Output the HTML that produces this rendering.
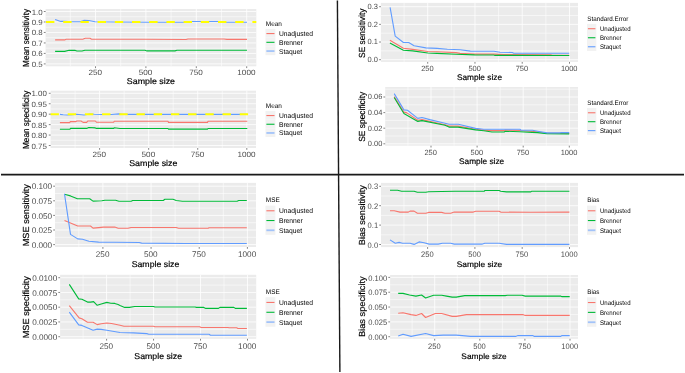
<!DOCTYPE html>
<html><head><meta charset="utf-8"><style>
html,body{margin:0;padding:0;background:#fff;overflow:hidden;}
svg{display:block;font-family:"Liberation Sans", sans-serif;filter:blur(0.4px);text-rendering:geometricPrecision;}
</style></head><body>
<svg width="685" height="373" viewBox="0 0 685 373">
<rect width="685" height="373" fill="#fff"/>
<g id="p1"><rect x="45.6" y="9.0" width="210.70" height="57.30" fill="#EBEBEB"/>
<line x1="45.6" x2="256.3" y1="58.66" y2="58.66" stroke="#FFFFFF" stroke-width="0.55"/>
<line x1="45.6" x2="256.3" y1="48.18" y2="48.18" stroke="#FFFFFF" stroke-width="0.55"/>
<line x1="45.6" x2="256.3" y1="37.70" y2="37.70" stroke="#FFFFFF" stroke-width="0.55"/>
<line x1="45.6" x2="256.3" y1="27.22" y2="27.22" stroke="#FFFFFF" stroke-width="0.55"/>
<line x1="45.6" x2="256.3" y1="16.74" y2="16.74" stroke="#FFFFFF" stroke-width="0.55"/>
<line x1="70.30" x2="70.30" y1="9.0" y2="66.3" stroke="#FFFFFF" stroke-width="0.55"/>
<line x1="120.70" x2="120.70" y1="9.0" y2="66.3" stroke="#FFFFFF" stroke-width="0.55"/>
<line x1="171.10" x2="171.10" y1="9.0" y2="66.3" stroke="#FFFFFF" stroke-width="0.55"/>
<line x1="221.50" x2="221.50" y1="9.0" y2="66.3" stroke="#FFFFFF" stroke-width="0.55"/>
<line x1="45.6" x2="256.3" y1="63.90" y2="63.90" stroke="#FFFFFF" stroke-width="0.8"/>
<line x1="45.6" x2="256.3" y1="53.42" y2="53.42" stroke="#FFFFFF" stroke-width="0.8"/>
<line x1="45.6" x2="256.3" y1="42.94" y2="42.94" stroke="#FFFFFF" stroke-width="0.8"/>
<line x1="45.6" x2="256.3" y1="32.46" y2="32.46" stroke="#FFFFFF" stroke-width="0.8"/>
<line x1="45.6" x2="256.3" y1="21.98" y2="21.98" stroke="#FFFFFF" stroke-width="0.8"/>
<line x1="45.6" x2="256.3" y1="11.50" y2="11.50" stroke="#FFFFFF" stroke-width="0.8"/>
<line x1="95.50" x2="95.50" y1="9.0" y2="66.3" stroke="#FFFFFF" stroke-width="0.8"/>
<line x1="145.90" x2="145.90" y1="9.0" y2="66.3" stroke="#FFFFFF" stroke-width="0.8"/>
<line x1="196.30" x2="196.30" y1="9.0" y2="66.3" stroke="#FFFFFF" stroke-width="0.8"/>
<line x1="246.70" x2="246.70" y1="9.0" y2="66.3" stroke="#FFFFFF" stroke-width="0.8"/>
<polyline points="55.1,39.9 64.6,39.9 66.2,39.2 83.2,39.1 85.4,38.3 90.0,38.3 91.6,39.2 145.0,39.3 186.0,39.5 188.0,39.0 224.0,39.0 227.0,39.4 247.0,39.4" fill="none" stroke="#F8766D" stroke-width="1.1" stroke-linejoin="round"/>
<polyline points="55.1,51.4 64.6,51.4 69.1,50.3 75.3,50.4 77.0,51.0 82.0,51.0 84.9,50.2 145.0,50.2 147.0,50.9 175.0,50.9 177.0,50.3 247.0,50.3" fill="none" stroke="#00BA38" stroke-width="1.1" stroke-linejoin="round"/>
<polyline points="55.1,19.4 60.7,21.4 64.6,21.3 72.0,21.7 80.0,21.7 83.8,20.4 88.8,20.5 95.0,21.7 115.0,22.0 150.0,22.2 185.0,22.2 192.0,21.5 218.0,21.5 226.0,22.2 247.0,22.2" fill="none" stroke="#619CFF" stroke-width="1.1" stroke-linejoin="round"/>
<line x1="45.6" x2="256.3" y1="21.98" y2="21.98" stroke="#FFFF00" stroke-width="2.1" stroke-dasharray="8.4 8.8" stroke-dashoffset="-0.4"/>
<line x1="43.80" x2="45.6" y1="63.90" y2="63.90" stroke="#333" stroke-width="0.6"/>
<text transform="translate(42.70,66.93) scale(1.030,1)" font-size="7.7" text-anchor="end" fill="#4D4D4D">0.5</text>
<line x1="43.80" x2="45.6" y1="53.42" y2="53.42" stroke="#333" stroke-width="0.6"/>
<text transform="translate(42.70,56.45) scale(1.030,1)" font-size="7.7" text-anchor="end" fill="#4D4D4D">0.6</text>
<line x1="43.80" x2="45.6" y1="42.94" y2="42.94" stroke="#333" stroke-width="0.6"/>
<text transform="translate(42.70,45.97) scale(1.030,1)" font-size="7.7" text-anchor="end" fill="#4D4D4D">0.7</text>
<line x1="43.80" x2="45.6" y1="32.46" y2="32.46" stroke="#333" stroke-width="0.6"/>
<text transform="translate(42.70,35.49) scale(1.030,1)" font-size="7.7" text-anchor="end" fill="#4D4D4D">0.8</text>
<line x1="43.80" x2="45.6" y1="21.98" y2="21.98" stroke="#333" stroke-width="0.6"/>
<text transform="translate(42.70,25.01) scale(1.030,1)" font-size="7.7" text-anchor="end" fill="#4D4D4D">0.9</text>
<line x1="43.80" x2="45.6" y1="11.50" y2="11.50" stroke="#333" stroke-width="0.6"/>
<text transform="translate(42.70,14.53) scale(1.030,1)" font-size="7.7" text-anchor="end" fill="#4D4D4D">1.0</text>
<line x1="95.50" x2="95.50" y1="66.3" y2="68.10" stroke="#333" stroke-width="0.6"/>
<text transform="translate(95.20,75.27) scale(1.060,1)" font-size="7.7" text-anchor="middle" fill="#4D4D4D">250</text>
<line x1="145.90" x2="145.90" y1="66.3" y2="68.10" stroke="#333" stroke-width="0.6"/>
<text transform="translate(145.60,75.27) scale(1.060,1)" font-size="7.7" text-anchor="middle" fill="#4D4D4D">500</text>
<line x1="196.30" x2="196.30" y1="66.3" y2="68.10" stroke="#333" stroke-width="0.6"/>
<text transform="translate(196.00,75.27) scale(1.060,1)" font-size="7.7" text-anchor="middle" fill="#4D4D4D">750</text>
<line x1="246.70" x2="246.70" y1="66.3" y2="68.10" stroke="#333" stroke-width="0.6"/>
<text transform="translate(246.40,75.27) scale(1.060,1)" font-size="7.7" text-anchor="middle" fill="#4D4D4D">1000</text>
<text transform="translate(150.95,83.90) scale(1.060,1)" font-size="8.35" text-anchor="middle" fill="#000" stroke="#000" stroke-width="0.18">Sample size</text>
<text transform="translate(28.50,37.95) rotate(-90)" font-size="8.8" text-anchor="middle" fill="#000" textLength="57.90" lengthAdjust="spacingAndGlyphs" stroke="#000" stroke-width="0.18">Mean sensitivity</text>
<text transform="translate(265.80,25.80) scale(0.960,1)" font-size="6.7" text-anchor="start" fill="#000">Mean</text>
<rect x="265.5" y="28.90" width="9.9" height="8.75" fill="#F2F2F2"/>
<line x1="266.40" x2="274.50" y1="33.57" y2="33.57" stroke="#F8766D" stroke-width="1.1" stroke-opacity="1.0"/>
<text transform="translate(278.90,36.07) scale(0.975,1)" font-size="6.9" text-anchor="start" fill="#000">Unadjusted</text>
<rect x="265.5" y="37.65" width="9.9" height="8.75" fill="#F2F2F2"/>
<line x1="266.40" x2="274.50" y1="42.32" y2="42.32" stroke="#00BA38" stroke-width="1.1" stroke-opacity="1.0"/>
<text transform="translate(278.90,44.82) scale(0.975,1)" font-size="6.9" text-anchor="start" fill="#000">Brenner</text>
<rect x="265.5" y="46.40" width="9.9" height="8.75" fill="#F2F2F2"/>
<line x1="266.40" x2="274.50" y1="51.07" y2="51.07" stroke="#619CFF" stroke-width="1.8" stroke-opacity="0.55"/>
<text transform="translate(278.90,53.57) scale(0.975,1)" font-size="6.9" text-anchor="start" fill="#000">Staquet</text></g>
<g id="p2"><rect x="50.6" y="90.7" width="205.40" height="57.30" fill="#EBEBEB"/>
<line x1="50.6" x2="256.0" y1="140.28" y2="140.28" stroke="#FFFFFF" stroke-width="0.55"/>
<line x1="50.6" x2="256.0" y1="129.84" y2="129.84" stroke="#FFFFFF" stroke-width="0.55"/>
<line x1="50.6" x2="256.0" y1="119.40" y2="119.40" stroke="#FFFFFF" stroke-width="0.55"/>
<line x1="50.6" x2="256.0" y1="108.96" y2="108.96" stroke="#FFFFFF" stroke-width="0.55"/>
<line x1="50.6" x2="256.0" y1="98.52" y2="98.52" stroke="#FFFFFF" stroke-width="0.55"/>
<line x1="75.07" x2="75.07" y1="90.7" y2="148.0" stroke="#FFFFFF" stroke-width="0.55"/>
<line x1="124.13" x2="124.13" y1="90.7" y2="148.0" stroke="#FFFFFF" stroke-width="0.55"/>
<line x1="173.20" x2="173.20" y1="90.7" y2="148.0" stroke="#FFFFFF" stroke-width="0.55"/>
<line x1="222.27" x2="222.27" y1="90.7" y2="148.0" stroke="#FFFFFF" stroke-width="0.55"/>
<line x1="50.6" x2="256.0" y1="145.50" y2="145.50" stroke="#FFFFFF" stroke-width="0.8"/>
<line x1="50.6" x2="256.0" y1="135.06" y2="135.06" stroke="#FFFFFF" stroke-width="0.8"/>
<line x1="50.6" x2="256.0" y1="124.62" y2="124.62" stroke="#FFFFFF" stroke-width="0.8"/>
<line x1="50.6" x2="256.0" y1="114.18" y2="114.18" stroke="#FFFFFF" stroke-width="0.8"/>
<line x1="50.6" x2="256.0" y1="103.74" y2="103.74" stroke="#FFFFFF" stroke-width="0.8"/>
<line x1="50.6" x2="256.0" y1="93.30" y2="93.30" stroke="#FFFFFF" stroke-width="0.8"/>
<line x1="99.60" x2="99.60" y1="90.7" y2="148.0" stroke="#FFFFFF" stroke-width="0.8"/>
<line x1="148.67" x2="148.67" y1="90.7" y2="148.0" stroke="#FFFFFF" stroke-width="0.8"/>
<line x1="197.73" x2="197.73" y1="90.7" y2="148.0" stroke="#FFFFFF" stroke-width="0.8"/>
<line x1="246.80" x2="246.80" y1="90.7" y2="148.0" stroke="#FFFFFF" stroke-width="0.8"/>
<polyline points="59.9,122.6 69.8,122.6 70.3,121.6 75.9,121.6 77.0,121.0 81.0,121.0 83.1,122.4 86.7,122.4 87.7,121.0 95.3,121.0 96.4,122.2 113.7,122.2 114.2,121.3 168.0,121.3 168.5,122.4 207.5,122.4 208.0,121.3 247.3,121.3" fill="none" stroke="#F8766D" stroke-width="1.1" stroke-linejoin="round"/>
<polyline points="59.9,129.3 69.8,129.3 70.5,128.4 86.7,128.4 88.7,127.5 95.3,127.9 96.4,128.4 113.7,128.4 114.2,127.8 120.0,128.5 168.0,128.5 168.5,129.1 207.5,129.1 208.0,128.5 247.3,128.5" fill="none" stroke="#00BA38" stroke-width="1.1" stroke-linejoin="round"/>
<polyline points="59.9,114.4 63.2,114.8 67.3,115.0 72.0,114.6 76.5,114.2 84.1,115.0 90.0,114.0 94.3,114.3 102.0,114.5 111.2,114.5 118.8,113.9 122.0,114.4 247.3,114.4" fill="none" stroke="#619CFF" stroke-width="1.1" stroke-linejoin="round"/>
<line x1="50.6" x2="256.0" y1="114.18" y2="114.18" stroke="#FFFF00" stroke-width="2.1" stroke-dasharray="8.4 8.8" stroke-dashoffset="0.1"/>
<line x1="48.80" x2="50.6" y1="145.50" y2="145.50" stroke="#333" stroke-width="0.6"/>
<text transform="translate(46.80,148.53) scale(1.030,1)" font-size="7.7" text-anchor="end" fill="#4D4D4D">0.75</text>
<line x1="48.80" x2="50.6" y1="135.06" y2="135.06" stroke="#333" stroke-width="0.6"/>
<text transform="translate(46.80,138.09) scale(1.030,1)" font-size="7.7" text-anchor="end" fill="#4D4D4D">0.80</text>
<line x1="48.80" x2="50.6" y1="124.62" y2="124.62" stroke="#333" stroke-width="0.6"/>
<text transform="translate(46.80,127.65) scale(1.030,1)" font-size="7.7" text-anchor="end" fill="#4D4D4D">0.85</text>
<line x1="48.80" x2="50.6" y1="114.18" y2="114.18" stroke="#333" stroke-width="0.6"/>
<text transform="translate(46.80,117.21) scale(1.030,1)" font-size="7.7" text-anchor="end" fill="#4D4D4D">0.90</text>
<line x1="48.80" x2="50.6" y1="103.74" y2="103.74" stroke="#333" stroke-width="0.6"/>
<text transform="translate(46.80,106.77) scale(1.030,1)" font-size="7.7" text-anchor="end" fill="#4D4D4D">0.95</text>
<line x1="48.80" x2="50.6" y1="93.30" y2="93.30" stroke="#333" stroke-width="0.6"/>
<text transform="translate(46.80,96.33) scale(1.030,1)" font-size="7.7" text-anchor="end" fill="#4D4D4D">1.00</text>
<line x1="99.60" x2="99.60" y1="148.0" y2="149.80" stroke="#333" stroke-width="0.6"/>
<text transform="translate(99.30,157.07) scale(1.060,1)" font-size="7.7" text-anchor="middle" fill="#4D4D4D">250</text>
<line x1="148.67" x2="148.67" y1="148.0" y2="149.80" stroke="#333" stroke-width="0.6"/>
<text transform="translate(148.37,157.07) scale(1.060,1)" font-size="7.7" text-anchor="middle" fill="#4D4D4D">500</text>
<line x1="197.73" x2="197.73" y1="148.0" y2="149.80" stroke="#333" stroke-width="0.6"/>
<text transform="translate(197.43,157.07) scale(1.060,1)" font-size="7.7" text-anchor="middle" fill="#4D4D4D">750</text>
<line x1="246.80" x2="246.80" y1="148.0" y2="149.80" stroke="#333" stroke-width="0.6"/>
<text transform="translate(246.50,157.07) scale(1.060,1)" font-size="7.7" text-anchor="middle" fill="#4D4D4D">1000</text>
<text transform="translate(153.30,165.90) scale(1.060,1)" font-size="8.35" text-anchor="middle" fill="#000" stroke="#000" stroke-width="0.18">Sample size</text>
<text transform="translate(28.50,119.85) rotate(-90)" font-size="8.8" text-anchor="middle" fill="#000" textLength="58.30" lengthAdjust="spacingAndGlyphs" stroke="#000" stroke-width="0.18">Mean specificity</text>
<text transform="translate(265.80,108.00) scale(0.960,1)" font-size="6.7" text-anchor="start" fill="#000">Mean</text>
<rect x="265.5" y="110.90" width="9.9" height="8.70" fill="#F2F2F2"/>
<line x1="266.40" x2="274.50" y1="115.55" y2="115.55" stroke="#F8766D" stroke-width="1.1" stroke-opacity="1.0"/>
<text transform="translate(278.90,118.05) scale(0.975,1)" font-size="6.9" text-anchor="start" fill="#000">Unadjusted</text>
<rect x="265.5" y="119.60" width="9.9" height="8.70" fill="#F2F2F2"/>
<line x1="266.40" x2="274.50" y1="124.25" y2="124.25" stroke="#00BA38" stroke-width="1.1" stroke-opacity="1.0"/>
<text transform="translate(278.90,126.75) scale(0.975,1)" font-size="6.9" text-anchor="start" fill="#000">Brenner</text>
<rect x="265.5" y="128.30" width="9.9" height="8.70" fill="#F2F2F2"/>
<line x1="266.40" x2="274.50" y1="132.95" y2="132.95" stroke="#619CFF" stroke-width="1.8" stroke-opacity="0.55"/>
<text transform="translate(278.90,135.45) scale(0.975,1)" font-size="6.9" text-anchor="start" fill="#000">Staquet</text></g>
<g id="p3"><rect x="380.9" y="2.9" width="197.10" height="59.00" fill="#EBEBEB"/>
<line x1="380.9" x2="578.0" y1="50.87" y2="50.87" stroke="#FFFFFF" stroke-width="0.55"/>
<line x1="380.9" x2="578.0" y1="33.20" y2="33.20" stroke="#FFFFFF" stroke-width="0.55"/>
<line x1="380.9" x2="578.0" y1="15.53" y2="15.53" stroke="#FFFFFF" stroke-width="0.55"/>
<line x1="404.07" x2="404.07" y1="2.9" y2="61.9" stroke="#FFFFFF" stroke-width="0.55"/>
<line x1="451.33" x2="451.33" y1="2.9" y2="61.9" stroke="#FFFFFF" stroke-width="0.55"/>
<line x1="498.60" x2="498.60" y1="2.9" y2="61.9" stroke="#FFFFFF" stroke-width="0.55"/>
<line x1="545.87" x2="545.87" y1="2.9" y2="61.9" stroke="#FFFFFF" stroke-width="0.55"/>
<line x1="380.9" x2="578.0" y1="59.70" y2="59.70" stroke="#FFFFFF" stroke-width="0.8"/>
<line x1="380.9" x2="578.0" y1="42.03" y2="42.03" stroke="#FFFFFF" stroke-width="0.8"/>
<line x1="380.9" x2="578.0" y1="24.37" y2="24.37" stroke="#FFFFFF" stroke-width="0.8"/>
<line x1="380.9" x2="578.0" y1="6.70" y2="6.70" stroke="#FFFFFF" stroke-width="0.8"/>
<line x1="427.70" x2="427.70" y1="2.9" y2="61.9" stroke="#FFFFFF" stroke-width="0.8"/>
<line x1="474.97" x2="474.97" y1="2.9" y2="61.9" stroke="#FFFFFF" stroke-width="0.8"/>
<line x1="522.23" x2="522.23" y1="2.9" y2="61.9" stroke="#FFFFFF" stroke-width="0.8"/>
<line x1="569.50" x2="569.50" y1="2.9" y2="61.9" stroke="#FFFFFF" stroke-width="0.8"/>
<polyline points="389.9,40.2 403.4,48.2 412.6,49.4 427.9,51.5 437.1,51.8 456.1,52.6 460.0,53.4 474.5,54.1 493.9,54.1 503.1,54.6 550.9,54.8 552.0,55.3 569.2,55.3" fill="none" stroke="#F8766D" stroke-width="1.1" stroke-linejoin="round"/>
<polyline points="389.9,43.1 403.4,50.2 412.6,50.9 427.9,53.0 437.0,53.4 456.1,54.2 474.5,54.9 493.9,55.0 495.0,55.4 569.2,55.5" fill="none" stroke="#00BA38" stroke-width="1.1" stroke-linejoin="round"/>
<polyline points="390.1,7.3 395.2,36.1 403.4,42.5 408.7,42.5 414.1,45.8 425.9,47.9 437.1,48.4 447.3,49.2 460.2,49.8 470.4,51.1 493.9,51.3 500.0,52.3 512.3,52.5 513.8,53.2 569.2,53.3" fill="none" stroke="#619CFF" stroke-width="1.1" stroke-linejoin="round"/>
<line x1="379.10" x2="380.9" y1="59.70" y2="59.70" stroke="#333" stroke-width="0.6"/>
<text transform="translate(378.00,62.07) scale(0.990,1)" font-size="7.55" text-anchor="end" fill="#4D4D4D">0.0</text>
<line x1="379.10" x2="380.9" y1="42.03" y2="42.03" stroke="#333" stroke-width="0.6"/>
<text transform="translate(378.00,44.41) scale(0.990,1)" font-size="7.55" text-anchor="end" fill="#4D4D4D">0.1</text>
<line x1="379.10" x2="380.9" y1="24.37" y2="24.37" stroke="#333" stroke-width="0.6"/>
<text transform="translate(378.00,26.74) scale(0.990,1)" font-size="7.55" text-anchor="end" fill="#4D4D4D">0.2</text>
<line x1="379.10" x2="380.9" y1="6.70" y2="6.70" stroke="#333" stroke-width="0.6"/>
<text transform="translate(378.00,9.07) scale(0.990,1)" font-size="7.55" text-anchor="end" fill="#4D4D4D">0.3</text>
<line x1="427.70" x2="427.70" y1="61.9" y2="63.70" stroke="#333" stroke-width="0.6"/>
<text transform="translate(427.40,71.17) scale(0.990,1)" font-size="7.55" text-anchor="middle" fill="#4D4D4D">250</text>
<line x1="474.97" x2="474.97" y1="61.9" y2="63.70" stroke="#333" stroke-width="0.6"/>
<text transform="translate(474.67,71.17) scale(0.990,1)" font-size="7.55" text-anchor="middle" fill="#4D4D4D">500</text>
<line x1="522.23" x2="522.23" y1="61.9" y2="63.70" stroke="#333" stroke-width="0.6"/>
<text transform="translate(521.93,71.17) scale(0.990,1)" font-size="7.55" text-anchor="middle" fill="#4D4D4D">750</text>
<line x1="569.50" x2="569.50" y1="61.9" y2="63.70" stroke="#333" stroke-width="0.6"/>
<text transform="translate(569.20,71.17) scale(0.990,1)" font-size="7.55" text-anchor="middle" fill="#4D4D4D">1000</text>
<text transform="translate(479.45,80.00) scale(1.020,1)" font-size="8.15" text-anchor="middle" fill="#000" stroke="#000" stroke-width="0.18">Sample size</text>
<text transform="translate(364.60,33.20) rotate(-90)" font-size="8.8" text-anchor="middle" fill="#000" textLength="49.40" lengthAdjust="spacingAndGlyphs" stroke="#000" stroke-width="0.18">SE sensitivity</text>
<text transform="translate(587.30,21.10) scale(0.950,1)" font-size="6.6" text-anchor="start" fill="#000">Standard.Error</text>
<rect x="587.0" y="23.90" width="9.3" height="9.03" fill="#F2F2F2"/>
<line x1="587.90" x2="595.40" y1="28.71" y2="28.71" stroke="#F8766D" stroke-width="1.1" stroke-opacity="1.0"/>
<text transform="translate(599.90,31.16) scale(0.910,1)" font-size="6.7" text-anchor="start" fill="#000">Unadjusted</text>
<rect x="587.0" y="32.93" width="9.3" height="9.03" fill="#F2F2F2"/>
<line x1="587.90" x2="595.40" y1="37.74" y2="37.74" stroke="#00BA38" stroke-width="1.1" stroke-opacity="1.0"/>
<text transform="translate(599.90,40.20) scale(0.910,1)" font-size="6.7" text-anchor="start" fill="#000">Brenner</text>
<rect x="587.0" y="41.96" width="9.3" height="9.03" fill="#F2F2F2"/>
<line x1="587.90" x2="595.40" y1="46.77" y2="46.77" stroke="#619CFF" stroke-width="1.1" stroke-opacity="1.0"/>
<text transform="translate(599.90,49.22) scale(0.910,1)" font-size="6.7" text-anchor="start" fill="#000">Staquet</text></g>
<g id="p4"><rect x="385.2" y="87.0" width="192.80" height="58.70" fill="#EBEBEB"/>
<line x1="385.2" x2="578.0" y1="136.00" y2="136.00" stroke="#FFFFFF" stroke-width="0.55"/>
<line x1="385.2" x2="578.0" y1="120.40" y2="120.40" stroke="#FFFFFF" stroke-width="0.55"/>
<line x1="385.2" x2="578.0" y1="104.80" y2="104.80" stroke="#FFFFFF" stroke-width="0.55"/>
<line x1="385.2" x2="578.0" y1="89.20" y2="89.20" stroke="#FFFFFF" stroke-width="0.55"/>
<line x1="407.95" x2="407.95" y1="87.0" y2="145.7" stroke="#FFFFFF" stroke-width="0.55"/>
<line x1="454.05" x2="454.05" y1="87.0" y2="145.7" stroke="#FFFFFF" stroke-width="0.55"/>
<line x1="500.15" x2="500.15" y1="87.0" y2="145.7" stroke="#FFFFFF" stroke-width="0.55"/>
<line x1="546.25" x2="546.25" y1="87.0" y2="145.7" stroke="#FFFFFF" stroke-width="0.55"/>
<line x1="385.2" x2="578.0" y1="143.80" y2="143.80" stroke="#FFFFFF" stroke-width="0.8"/>
<line x1="385.2" x2="578.0" y1="128.20" y2="128.20" stroke="#FFFFFF" stroke-width="0.8"/>
<line x1="385.2" x2="578.0" y1="112.60" y2="112.60" stroke="#FFFFFF" stroke-width="0.8"/>
<line x1="385.2" x2="578.0" y1="97.00" y2="97.00" stroke="#FFFFFF" stroke-width="0.8"/>
<line x1="431.00" x2="431.00" y1="87.0" y2="145.7" stroke="#FFFFFF" stroke-width="0.8"/>
<line x1="477.10" x2="477.10" y1="87.0" y2="145.7" stroke="#FFFFFF" stroke-width="0.8"/>
<line x1="523.20" x2="523.20" y1="87.0" y2="145.7" stroke="#FFFFFF" stroke-width="0.8"/>
<line x1="569.30" x2="569.30" y1="87.0" y2="145.7" stroke="#FFFFFF" stroke-width="0.8"/>
<polyline points="394.2,96.6 403.9,112.1 406.9,112.9 417.8,120.2 422.0,119.6 445.0,124.8 449.0,126.1 458.0,126.1 475.6,129.2 483.8,130.1 492.0,130.6 504.2,130.6 505.3,130.1 520.0,130.5 530.0,131.3 537.6,131.8 546.8,133.2 569.2,133.4" fill="none" stroke="#F8766D" stroke-width="1.1" stroke-linejoin="round"/>
<polyline points="394.2,97.5 403.9,113.5 417.8,121.4 422.0,120.6 445.0,125.3 449.0,127.1 458.0,127.1 475.6,129.9 483.8,130.7 492.0,132.0 504.2,132.0 505.3,131.2 520.0,131.8 532.0,132.4 537.6,132.6 546.8,133.6 569.2,133.9" fill="none" stroke="#00BA38" stroke-width="1.1" stroke-linejoin="round"/>
<polyline points="394.2,93.6 403.9,109.9 407.5,110.3 417.8,118.4 422.0,117.5 429.8,119.6 445.0,123.3 449.1,124.3 458.3,124.3 475.6,128.4 483.8,129.2 520.2,129.3 521.0,130.3 532.5,130.3 537.6,131.3 546.8,132.9 560.1,132.9 560.6,132.6 569.2,132.6" fill="none" stroke="#619CFF" stroke-width="1.1" stroke-linejoin="round"/>
<line x1="383.40" x2="385.2" y1="143.80" y2="143.80" stroke="#333" stroke-width="0.6"/>
<text transform="translate(382.30,146.17) scale(0.990,1)" font-size="7.55" text-anchor="end" fill="#4D4D4D">0.00</text>
<line x1="383.40" x2="385.2" y1="128.20" y2="128.20" stroke="#333" stroke-width="0.6"/>
<text transform="translate(382.30,130.57) scale(0.990,1)" font-size="7.55" text-anchor="end" fill="#4D4D4D">0.02</text>
<line x1="383.40" x2="385.2" y1="112.60" y2="112.60" stroke="#333" stroke-width="0.6"/>
<text transform="translate(382.30,114.97) scale(0.990,1)" font-size="7.55" text-anchor="end" fill="#4D4D4D">0.04</text>
<line x1="383.40" x2="385.2" y1="97.00" y2="97.00" stroke="#333" stroke-width="0.6"/>
<text transform="translate(382.30,99.37) scale(0.990,1)" font-size="7.55" text-anchor="end" fill="#4D4D4D">0.06</text>
<line x1="431.00" x2="431.00" y1="145.7" y2="147.50" stroke="#333" stroke-width="0.6"/>
<text transform="translate(430.70,155.27) scale(0.990,1)" font-size="7.55" text-anchor="middle" fill="#4D4D4D">250</text>
<line x1="477.10" x2="477.10" y1="145.7" y2="147.50" stroke="#333" stroke-width="0.6"/>
<text transform="translate(476.80,155.27) scale(0.990,1)" font-size="7.55" text-anchor="middle" fill="#4D4D4D">500</text>
<line x1="523.20" x2="523.20" y1="145.7" y2="147.50" stroke="#333" stroke-width="0.6"/>
<text transform="translate(522.90,155.27) scale(0.990,1)" font-size="7.55" text-anchor="middle" fill="#4D4D4D">750</text>
<line x1="569.30" x2="569.30" y1="145.7" y2="147.50" stroke="#333" stroke-width="0.6"/>
<text transform="translate(569.00,155.27) scale(0.990,1)" font-size="7.55" text-anchor="middle" fill="#4D4D4D">1000</text>
<text transform="translate(481.60,163.90) scale(1.020,1)" font-size="8.15" text-anchor="middle" fill="#000" stroke="#000" stroke-width="0.18">Sample size</text>
<text transform="translate(364.60,116.80) rotate(-90)" font-size="8.8" text-anchor="middle" fill="#000" textLength="50.00" lengthAdjust="spacingAndGlyphs" stroke="#000" stroke-width="0.18">SE specificity</text>
<text transform="translate(587.30,104.90) scale(0.950,1)" font-size="6.6" text-anchor="start" fill="#000">Standard.Error</text>
<rect x="587.0" y="108.00" width="9.3" height="8.93" fill="#F2F2F2"/>
<line x1="587.90" x2="595.40" y1="112.77" y2="112.77" stroke="#F8766D" stroke-width="1.1" stroke-opacity="1.0"/>
<text transform="translate(599.90,115.22) scale(0.910,1)" font-size="6.7" text-anchor="start" fill="#000">Unadjusted</text>
<rect x="587.0" y="116.93" width="9.3" height="8.93" fill="#F2F2F2"/>
<line x1="587.90" x2="595.40" y1="121.70" y2="121.70" stroke="#00BA38" stroke-width="1.1" stroke-opacity="1.0"/>
<text transform="translate(599.90,124.15) scale(0.910,1)" font-size="6.7" text-anchor="start" fill="#000">Brenner</text>
<rect x="587.0" y="125.86" width="9.3" height="8.93" fill="#F2F2F2"/>
<line x1="587.90" x2="595.40" y1="130.62" y2="130.62" stroke="#619CFF" stroke-width="1.1" stroke-opacity="1.0"/>
<text transform="translate(599.90,133.07) scale(0.910,1)" font-size="6.7" text-anchor="start" fill="#000">Staquet</text></g>
<g id="p5"><rect x="55.0" y="182.9" width="201.00" height="64.10" fill="#EBEBEB"/>
<line x1="55.0" x2="256.0" y1="237.30" y2="237.30" stroke="#FFFFFF" stroke-width="0.55"/>
<line x1="55.0" x2="256.0" y1="222.70" y2="222.70" stroke="#FFFFFF" stroke-width="0.55"/>
<line x1="55.0" x2="256.0" y1="208.10" y2="208.10" stroke="#FFFFFF" stroke-width="0.55"/>
<line x1="55.0" x2="256.0" y1="193.50" y2="193.50" stroke="#FFFFFF" stroke-width="0.55"/>
<line x1="78.82" x2="78.82" y1="182.9" y2="247.0" stroke="#FFFFFF" stroke-width="0.55"/>
<line x1="126.98" x2="126.98" y1="182.9" y2="247.0" stroke="#FFFFFF" stroke-width="0.55"/>
<line x1="175.15" x2="175.15" y1="182.9" y2="247.0" stroke="#FFFFFF" stroke-width="0.55"/>
<line x1="223.32" x2="223.32" y1="182.9" y2="247.0" stroke="#FFFFFF" stroke-width="0.55"/>
<line x1="55.0" x2="256.0" y1="244.60" y2="244.60" stroke="#FFFFFF" stroke-width="0.8"/>
<line x1="55.0" x2="256.0" y1="230.00" y2="230.00" stroke="#FFFFFF" stroke-width="0.8"/>
<line x1="55.0" x2="256.0" y1="215.40" y2="215.40" stroke="#FFFFFF" stroke-width="0.8"/>
<line x1="55.0" x2="256.0" y1="200.80" y2="200.80" stroke="#FFFFFF" stroke-width="0.8"/>
<line x1="55.0" x2="256.0" y1="186.20" y2="186.20" stroke="#FFFFFF" stroke-width="0.8"/>
<line x1="102.90" x2="102.90" y1="182.9" y2="247.0" stroke="#FFFFFF" stroke-width="0.8"/>
<line x1="151.07" x2="151.07" y1="182.9" y2="247.0" stroke="#FFFFFF" stroke-width="0.8"/>
<line x1="199.23" x2="199.23" y1="182.9" y2="247.0" stroke="#FFFFFF" stroke-width="0.8"/>
<line x1="247.40" x2="247.40" y1="182.9" y2="247.0" stroke="#FFFFFF" stroke-width="0.8"/>
<polyline points="64.5,220.4 77.7,226.0 90.5,226.0 93.0,228.1 98.6,227.6 103.4,227.1 114.7,227.1 118.2,228.3 127.9,228.3 131.1,227.5 176.2,227.5 178.6,228.3 208.2,228.3 209.0,227.8 246.8,227.8" fill="none" stroke="#F8766D" stroke-width="1.1" stroke-linejoin="round"/>
<polyline points="64.5,194.2 70.5,195.9 77.4,198.7 89.7,198.7 93.0,201.1 101.8,200.8 105.0,200.3 115.5,200.3 119.0,201.3 131.1,201.3 132.7,200.5 163.3,200.5 164.9,199.3 173.0,199.3 176.2,200.5 182.4,201.3 237.1,201.3 238.7,200.5 246.8,200.5" fill="none" stroke="#00BA38" stroke-width="1.1" stroke-linejoin="round"/>
<polyline points="64.5,193.8 70.5,234.4 77.7,238.9 82.5,239.3 88.9,241.3 98.6,242.1 115.0,242.3 139.2,242.5 141.6,243.1 185.0,243.5 246.8,243.5" fill="none" stroke="#619CFF" stroke-width="1.1" stroke-linejoin="round"/>
<line x1="53.20" x2="55.0" y1="244.60" y2="244.60" stroke="#333" stroke-width="0.6"/>
<text transform="translate(52.10,247.82) scale(0.990,1)" font-size="8.25" text-anchor="end" fill="#4D4D4D">0.000</text>
<line x1="53.20" x2="55.0" y1="230.00" y2="230.00" stroke="#333" stroke-width="0.6"/>
<text transform="translate(52.10,233.22) scale(0.990,1)" font-size="8.25" text-anchor="end" fill="#4D4D4D">0.025</text>
<line x1="53.20" x2="55.0" y1="215.40" y2="215.40" stroke="#333" stroke-width="0.6"/>
<text transform="translate(52.10,218.62) scale(0.990,1)" font-size="8.25" text-anchor="end" fill="#4D4D4D">0.050</text>
<line x1="53.20" x2="55.0" y1="200.80" y2="200.80" stroke="#333" stroke-width="0.6"/>
<text transform="translate(52.10,204.02) scale(0.990,1)" font-size="8.25" text-anchor="end" fill="#4D4D4D">0.075</text>
<line x1="53.20" x2="55.0" y1="186.20" y2="186.20" stroke="#333" stroke-width="0.6"/>
<text transform="translate(52.10,189.42) scale(0.990,1)" font-size="8.25" text-anchor="end" fill="#4D4D4D">0.100</text>
<line x1="102.90" x2="102.90" y1="247.0" y2="248.80" stroke="#333" stroke-width="0.6"/>
<text transform="translate(102.60,256.96) scale(0.990,1)" font-size="8.25" text-anchor="middle" fill="#4D4D4D">250</text>
<line x1="151.07" x2="151.07" y1="247.0" y2="248.80" stroke="#333" stroke-width="0.6"/>
<text transform="translate(150.77,256.96) scale(0.990,1)" font-size="8.25" text-anchor="middle" fill="#4D4D4D">500</text>
<line x1="199.23" x2="199.23" y1="247.0" y2="248.80" stroke="#333" stroke-width="0.6"/>
<text transform="translate(198.93,256.96) scale(0.990,1)" font-size="8.25" text-anchor="middle" fill="#4D4D4D">750</text>
<line x1="247.40" x2="247.40" y1="247.0" y2="248.80" stroke="#333" stroke-width="0.6"/>
<text transform="translate(247.10,256.96) scale(0.990,1)" font-size="8.25" text-anchor="middle" fill="#4D4D4D">1000</text>
<text transform="translate(155.50,267.00) scale(1.050,1)" font-size="8.35" text-anchor="middle" fill="#000" stroke="#000" stroke-width="0.18">Sample size</text>
<text transform="translate(28.60,215.20) rotate(-90)" font-size="8.8" text-anchor="middle" fill="#000" textLength="62.20" lengthAdjust="spacingAndGlyphs" stroke="#000" stroke-width="0.18">MSE sensitivity</text>
<text transform="translate(265.80,202.10) scale(0.960,1)" font-size="6.7" text-anchor="start" fill="#000">MSE</text>
<rect x="265.5" y="205.60" width="9.9" height="9.75" fill="#F2F2F2"/>
<line x1="266.40" x2="274.50" y1="210.78" y2="210.78" stroke="#F8766D" stroke-width="1.1" stroke-opacity="1.0"/>
<text transform="translate(278.90,213.28) scale(0.975,1)" font-size="6.9" text-anchor="start" fill="#000">Unadjusted</text>
<rect x="265.5" y="215.35" width="9.9" height="9.75" fill="#F2F2F2"/>
<line x1="266.40" x2="274.50" y1="220.53" y2="220.53" stroke="#00BA38" stroke-width="1.1" stroke-opacity="1.0"/>
<text transform="translate(278.90,223.03) scale(0.975,1)" font-size="6.9" text-anchor="start" fill="#000">Brenner</text>
<rect x="265.5" y="225.10" width="9.9" height="9.75" fill="#F2F2F2"/>
<line x1="266.40" x2="274.50" y1="230.28" y2="230.28" stroke="#619CFF" stroke-width="1.8" stroke-opacity="0.55"/>
<text transform="translate(278.90,232.78) scale(0.975,1)" font-size="6.9" text-anchor="start" fill="#000">Staquet</text></g>
<g id="p6"><rect x="60.1" y="274.8" width="196.10" height="64.00" fill="#EBEBEB"/>
<line x1="60.1" x2="256.2" y1="329.32" y2="329.32" stroke="#FFFFFF" stroke-width="0.55"/>
<line x1="60.1" x2="256.2" y1="314.57" y2="314.57" stroke="#FFFFFF" stroke-width="0.55"/>
<line x1="60.1" x2="256.2" y1="299.82" y2="299.82" stroke="#FFFFFF" stroke-width="0.55"/>
<line x1="60.1" x2="256.2" y1="285.07" y2="285.07" stroke="#FFFFFF" stroke-width="0.55"/>
<line x1="83.12" x2="83.12" y1="274.8" y2="338.8" stroke="#FFFFFF" stroke-width="0.55"/>
<line x1="130.08" x2="130.08" y1="274.8" y2="338.8" stroke="#FFFFFF" stroke-width="0.55"/>
<line x1="177.05" x2="177.05" y1="274.8" y2="338.8" stroke="#FFFFFF" stroke-width="0.55"/>
<line x1="224.02" x2="224.02" y1="274.8" y2="338.8" stroke="#FFFFFF" stroke-width="0.55"/>
<line x1="60.1" x2="256.2" y1="336.70" y2="336.70" stroke="#FFFFFF" stroke-width="0.8"/>
<line x1="60.1" x2="256.2" y1="321.95" y2="321.95" stroke="#FFFFFF" stroke-width="0.8"/>
<line x1="60.1" x2="256.2" y1="307.20" y2="307.20" stroke="#FFFFFF" stroke-width="0.8"/>
<line x1="60.1" x2="256.2" y1="292.45" y2="292.45" stroke="#FFFFFF" stroke-width="0.8"/>
<line x1="60.1" x2="256.2" y1="277.70" y2="277.70" stroke="#FFFFFF" stroke-width="0.8"/>
<line x1="106.60" x2="106.60" y1="274.8" y2="338.8" stroke="#FFFFFF" stroke-width="0.8"/>
<line x1="153.57" x2="153.57" y1="274.8" y2="338.8" stroke="#FFFFFF" stroke-width="0.8"/>
<line x1="200.53" x2="200.53" y1="274.8" y2="338.8" stroke="#FFFFFF" stroke-width="0.8"/>
<line x1="247.50" x2="247.50" y1="274.8" y2="338.8" stroke="#FFFFFF" stroke-width="0.8"/>
<polyline points="69.3,305.7 79.1,317.9 81.9,318.7 87.5,322.2 93.1,322.2 97.2,324.6 101.2,323.8 106.8,323.0 111.6,323.5 120.0,325.3 124.0,326.2 153.5,326.2 154.9,326.7 199.7,326.7 201.1,327.5 227.9,327.5 229.2,327.8 236.6,327.8 238.0,328.5 246.9,328.5" fill="none" stroke="#F8766D" stroke-width="1.1" stroke-linejoin="round"/>
<polyline points="69.3,284.4 78.7,298.9 81.9,299.2 87.5,302.1 90.7,302.1 93.6,301.6 97.2,305.3 101.2,304.0 106.8,302.4 110.8,303.2 114.8,303.4 118.1,304.5 120.0,305.4 124.7,307.4 129.4,307.4 134.7,306.5 153.5,306.5 154.9,307.0 195.1,307.0 196.4,307.4 203.8,307.4 205.8,308.4 218.5,308.4 219.9,307.4 233.9,307.4 235.3,308.4 246.9,308.4" fill="none" stroke="#00BA38" stroke-width="1.1" stroke-linejoin="round"/>
<polyline points="69.3,312.1 78.7,324.9 81.9,325.4 93.1,330.3 97.2,329.1 101.2,329.4 106.8,330.3 120.0,332.5 133.4,332.9 146.8,333.6 148.8,334.2 209.1,334.2 210.5,335.2 246.9,335.2" fill="none" stroke="#619CFF" stroke-width="1.1" stroke-linejoin="round"/>
<line x1="58.30" x2="60.1" y1="336.70" y2="336.70" stroke="#333" stroke-width="0.6"/>
<text transform="translate(57.20,339.92) scale(0.990,1)" font-size="8.25" text-anchor="end" fill="#4D4D4D">0.0000</text>
<line x1="58.30" x2="60.1" y1="321.95" y2="321.95" stroke="#333" stroke-width="0.6"/>
<text transform="translate(57.20,325.17) scale(0.990,1)" font-size="8.25" text-anchor="end" fill="#4D4D4D">0.0025</text>
<line x1="58.30" x2="60.1" y1="307.20" y2="307.20" stroke="#333" stroke-width="0.6"/>
<text transform="translate(57.20,310.42) scale(0.990,1)" font-size="8.25" text-anchor="end" fill="#4D4D4D">0.0050</text>
<line x1="58.30" x2="60.1" y1="292.45" y2="292.45" stroke="#333" stroke-width="0.6"/>
<text transform="translate(57.20,295.67) scale(0.990,1)" font-size="8.25" text-anchor="end" fill="#4D4D4D">0.0075</text>
<line x1="58.30" x2="60.1" y1="277.70" y2="277.70" stroke="#333" stroke-width="0.6"/>
<text transform="translate(57.20,280.92) scale(0.990,1)" font-size="8.25" text-anchor="end" fill="#4D4D4D">0.0100</text>
<line x1="106.60" x2="106.60" y1="338.8" y2="340.60" stroke="#333" stroke-width="0.6"/>
<text transform="translate(106.30,348.86) scale(0.990,1)" font-size="8.25" text-anchor="middle" fill="#4D4D4D">250</text>
<line x1="153.57" x2="153.57" y1="338.8" y2="340.60" stroke="#333" stroke-width="0.6"/>
<text transform="translate(153.27,348.86) scale(0.990,1)" font-size="8.25" text-anchor="middle" fill="#4D4D4D">500</text>
<line x1="200.53" x2="200.53" y1="338.8" y2="340.60" stroke="#333" stroke-width="0.6"/>
<text transform="translate(200.23,348.86) scale(0.990,1)" font-size="8.25" text-anchor="middle" fill="#4D4D4D">750</text>
<line x1="247.50" x2="247.50" y1="338.8" y2="340.60" stroke="#333" stroke-width="0.6"/>
<text transform="translate(247.20,348.86) scale(0.990,1)" font-size="8.25" text-anchor="middle" fill="#4D4D4D">1000</text>
<text transform="translate(158.15,358.60) scale(1.050,1)" font-size="8.35" text-anchor="middle" fill="#000" stroke="#000" stroke-width="0.18">Sample size</text>
<text transform="translate(28.60,307.20) rotate(-90)" font-size="8.8" text-anchor="middle" fill="#000" textLength="62.20" lengthAdjust="spacingAndGlyphs" stroke="#000" stroke-width="0.18">MSE specificity</text>
<text transform="translate(265.80,293.80) scale(0.960,1)" font-size="6.7" text-anchor="start" fill="#000">MSE</text>
<rect x="265.5" y="297.20" width="9.9" height="9.85" fill="#F2F2F2"/>
<line x1="266.40" x2="274.50" y1="302.43" y2="302.43" stroke="#F8766D" stroke-width="1.1" stroke-opacity="1.0"/>
<text transform="translate(278.90,304.93) scale(0.975,1)" font-size="6.9" text-anchor="start" fill="#000">Unadjusted</text>
<rect x="265.5" y="307.05" width="9.9" height="9.85" fill="#F2F2F2"/>
<line x1="266.40" x2="274.50" y1="312.28" y2="312.28" stroke="#00BA38" stroke-width="1.1" stroke-opacity="1.0"/>
<text transform="translate(278.90,314.78) scale(0.975,1)" font-size="6.9" text-anchor="start" fill="#000">Brenner</text>
<rect x="265.5" y="316.90" width="9.9" height="9.85" fill="#F2F2F2"/>
<line x1="266.40" x2="274.50" y1="322.12" y2="322.12" stroke="#619CFF" stroke-width="1.8" stroke-opacity="0.55"/>
<text transform="translate(278.90,324.62) scale(0.975,1)" font-size="6.9" text-anchor="start" fill="#000">Staquet</text></g>
<g id="p7"><rect x="381.0" y="182.9" width="197.00" height="64.20" fill="#EBEBEB"/>
<line x1="381.0" x2="578.0" y1="234.80" y2="234.80" stroke="#FFFFFF" stroke-width="0.55"/>
<line x1="381.0" x2="578.0" y1="215.40" y2="215.40" stroke="#FFFFFF" stroke-width="0.55"/>
<line x1="381.0" x2="578.0" y1="196.00" y2="196.00" stroke="#FFFFFF" stroke-width="0.55"/>
<line x1="403.95" x2="403.95" y1="182.9" y2="247.1" stroke="#FFFFFF" stroke-width="0.55"/>
<line x1="451.25" x2="451.25" y1="182.9" y2="247.1" stroke="#FFFFFF" stroke-width="0.55"/>
<line x1="498.55" x2="498.55" y1="182.9" y2="247.1" stroke="#FFFFFF" stroke-width="0.55"/>
<line x1="545.85" x2="545.85" y1="182.9" y2="247.1" stroke="#FFFFFF" stroke-width="0.55"/>
<line x1="381.0" x2="578.0" y1="244.50" y2="244.50" stroke="#FFFFFF" stroke-width="0.8"/>
<line x1="381.0" x2="578.0" y1="225.10" y2="225.10" stroke="#FFFFFF" stroke-width="0.8"/>
<line x1="381.0" x2="578.0" y1="205.70" y2="205.70" stroke="#FFFFFF" stroke-width="0.8"/>
<line x1="381.0" x2="578.0" y1="186.30" y2="186.30" stroke="#FFFFFF" stroke-width="0.8"/>
<line x1="427.60" x2="427.60" y1="182.9" y2="247.1" stroke="#FFFFFF" stroke-width="0.8"/>
<line x1="474.90" x2="474.90" y1="182.9" y2="247.1" stroke="#FFFFFF" stroke-width="0.8"/>
<line x1="522.20" x2="522.20" y1="182.9" y2="247.1" stroke="#FFFFFF" stroke-width="0.8"/>
<line x1="569.50" x2="569.50" y1="182.9" y2="247.1" stroke="#FFFFFF" stroke-width="0.8"/>
<polyline points="390.0,210.8 394.2,210.8 400.0,212.1 408.3,212.1 410.0,211.1 414.1,211.1 417.4,213.3 425.8,213.3 428.6,212.4 441.6,212.4 444.9,213.3 450.7,213.3 454.2,212.1 473.3,212.1 475.8,211.3 499.1,211.3 500.7,212.1 530.8,212.3 569.4,212.1" fill="none" stroke="#F8766D" stroke-width="1.1" stroke-linejoin="round"/>
<polyline points="390.0,190.3 397.5,190.3 401.6,191.2 414.1,191.2 417.4,192.2 425.8,192.2 428.6,191.7 455.0,191.3 484.1,191.3 484.9,190.5 499.1,190.5 500.7,191.3 506.5,191.9 530.8,191.9 531.5,191.3 569.4,191.3" fill="none" stroke="#00BA38" stroke-width="1.1" stroke-linejoin="round"/>
<polyline points="390.0,239.9 395.3,243.2 399.1,242.4 402.5,243.2 410.0,243.2 414.1,244.4 419.1,241.9 424.1,242.7 429.1,244.1 438.2,244.1 442.4,243.2 450.7,243.2 454.2,244.1 482.4,244.1 484.9,243.2 499.1,243.2 506.5,244.4 569.4,244.4" fill="none" stroke="#619CFF" stroke-width="1.1" stroke-linejoin="round"/>
<line x1="379.20" x2="381.0" y1="244.50" y2="244.50" stroke="#333" stroke-width="0.6"/>
<text transform="translate(378.10,247.61) scale(0.950,1)" font-size="7.95" text-anchor="end" fill="#4D4D4D">0.0</text>
<line x1="379.20" x2="381.0" y1="225.10" y2="225.10" stroke="#333" stroke-width="0.6"/>
<text transform="translate(378.10,228.21) scale(0.950,1)" font-size="7.95" text-anchor="end" fill="#4D4D4D">0.1</text>
<line x1="379.20" x2="381.0" y1="205.70" y2="205.70" stroke="#333" stroke-width="0.6"/>
<text transform="translate(378.10,208.81) scale(0.950,1)" font-size="7.95" text-anchor="end" fill="#4D4D4D">0.2</text>
<line x1="379.20" x2="381.0" y1="186.30" y2="186.30" stroke="#333" stroke-width="0.6"/>
<text transform="translate(378.10,189.41) scale(0.950,1)" font-size="7.95" text-anchor="end" fill="#4D4D4D">0.3</text>
<line x1="427.60" x2="427.60" y1="247.1" y2="248.90" stroke="#333" stroke-width="0.6"/>
<text transform="translate(427.30,257.15) scale(0.950,1)" font-size="7.95" text-anchor="middle" fill="#4D4D4D">250</text>
<line x1="474.90" x2="474.90" y1="247.1" y2="248.90" stroke="#333" stroke-width="0.6"/>
<text transform="translate(474.60,257.15) scale(0.950,1)" font-size="7.95" text-anchor="middle" fill="#4D4D4D">500</text>
<line x1="522.20" x2="522.20" y1="247.1" y2="248.90" stroke="#333" stroke-width="0.6"/>
<text transform="translate(521.90,257.15) scale(0.950,1)" font-size="7.95" text-anchor="middle" fill="#4D4D4D">750</text>
<line x1="569.50" x2="569.50" y1="247.1" y2="248.90" stroke="#333" stroke-width="0.6"/>
<text transform="translate(569.20,257.15) scale(0.950,1)" font-size="7.95" text-anchor="middle" fill="#4D4D4D">1000</text>
<text transform="translate(479.50,266.60) scale(1.050,1)" font-size="7.95" text-anchor="middle" fill="#000" stroke="#000" stroke-width="0.18">Sample size</text>
<text transform="translate(364.90,215.20) rotate(-90)" font-size="8.8" text-anchor="middle" fill="#000" textLength="59.90" lengthAdjust="spacingAndGlyphs" stroke="#000" stroke-width="0.18">Bias sensitivity</text>
<text transform="translate(587.30,202.10) scale(0.950,1)" font-size="6.6" text-anchor="start" fill="#000">Bias</text>
<rect x="587.0" y="205.60" width="9.3" height="9.75" fill="#F2F2F2"/>
<line x1="587.90" x2="595.40" y1="210.78" y2="210.78" stroke="#F8766D" stroke-width="1.1" stroke-opacity="1.0"/>
<text transform="translate(599.90,213.22) scale(0.910,1)" font-size="6.7" text-anchor="start" fill="#000">Unadjusted</text>
<rect x="587.0" y="215.35" width="9.3" height="9.75" fill="#F2F2F2"/>
<line x1="587.90" x2="595.40" y1="220.53" y2="220.53" stroke="#00BA38" stroke-width="1.1" stroke-opacity="1.0"/>
<text transform="translate(599.90,222.97) scale(0.910,1)" font-size="6.7" text-anchor="start" fill="#000">Brenner</text>
<rect x="587.0" y="225.10" width="9.3" height="9.75" fill="#F2F2F2"/>
<line x1="587.90" x2="595.40" y1="230.28" y2="230.28" stroke="#619CFF" stroke-width="1.8" stroke-opacity="0.55"/>
<text transform="translate(599.90,232.72) scale(0.910,1)" font-size="6.7" text-anchor="start" fill="#000">Staquet</text></g>
<g id="p8"><rect x="390.1" y="275.0" width="187.90" height="63.80" fill="#EBEBEB"/>
<line x1="390.1" x2="578.0" y1="329.29" y2="329.29" stroke="#FFFFFF" stroke-width="0.55"/>
<line x1="390.1" x2="578.0" y1="314.46" y2="314.46" stroke="#FFFFFF" stroke-width="0.55"/>
<line x1="390.1" x2="578.0" y1="299.64" y2="299.64" stroke="#FFFFFF" stroke-width="0.55"/>
<line x1="390.1" x2="578.0" y1="284.81" y2="284.81" stroke="#FFFFFF" stroke-width="0.55"/>
<line x1="412.15" x2="412.15" y1="275.0" y2="338.8" stroke="#FFFFFF" stroke-width="0.55"/>
<line x1="457.25" x2="457.25" y1="275.0" y2="338.8" stroke="#FFFFFF" stroke-width="0.55"/>
<line x1="502.35" x2="502.35" y1="275.0" y2="338.8" stroke="#FFFFFF" stroke-width="0.55"/>
<line x1="547.45" x2="547.45" y1="275.0" y2="338.8" stroke="#FFFFFF" stroke-width="0.55"/>
<line x1="390.1" x2="578.0" y1="336.70" y2="336.70" stroke="#FFFFFF" stroke-width="0.8"/>
<line x1="390.1" x2="578.0" y1="321.88" y2="321.88" stroke="#FFFFFF" stroke-width="0.8"/>
<line x1="390.1" x2="578.0" y1="307.05" y2="307.05" stroke="#FFFFFF" stroke-width="0.8"/>
<line x1="390.1" x2="578.0" y1="292.22" y2="292.22" stroke="#FFFFFF" stroke-width="0.8"/>
<line x1="390.1" x2="578.0" y1="277.40" y2="277.40" stroke="#FFFFFF" stroke-width="0.8"/>
<line x1="434.70" x2="434.70" y1="275.0" y2="338.8" stroke="#FFFFFF" stroke-width="0.8"/>
<line x1="479.80" x2="479.80" y1="275.0" y2="338.8" stroke="#FFFFFF" stroke-width="0.8"/>
<line x1="524.90" x2="524.90" y1="275.0" y2="338.8" stroke="#FFFFFF" stroke-width="0.8"/>
<line x1="570.00" x2="570.00" y1="275.0" y2="338.8" stroke="#FFFFFF" stroke-width="0.8"/>
<polyline points="398.2,313.3 403.0,312.7 411.1,314.6 415.9,315.4 421.6,313.5 425.6,317.5 435.3,313.5 441.7,313.5 452.2,316.4 456.2,316.4 466.4,314.6 522.8,314.6 525.2,315.4 569.7,315.4" fill="none" stroke="#F8766D" stroke-width="1.1" stroke-linejoin="round"/>
<polyline points="398.2,293.4 403.0,293.4 409.5,295.0 415.9,296.1 421.6,295.0 425.6,298.0 433.6,295.3 441.7,295.3 446.5,296.1 452.2,297.1 456.2,297.1 464.8,295.6 505.1,295.6 507.5,295.3 522.0,295.3 525.2,296.1 560.9,296.1 561.7,296.6 569.7,296.6" fill="none" stroke="#00BA38" stroke-width="1.1" stroke-linejoin="round"/>
<polyline points="398.2,335.9 403.0,334.3 411.1,336.4 425.6,333.5 433.6,335.6 443.3,335.1 456.2,335.1 465.0,335.9 470.5,336.4 515.6,336.4 518.0,335.6 532.7,335.6 534.3,336.4 560.9,336.4 561.7,335.6 569.7,335.6" fill="none" stroke="#619CFF" stroke-width="1.1" stroke-linejoin="round"/>
<line x1="388.30" x2="390.1" y1="336.70" y2="336.70" stroke="#333" stroke-width="0.6"/>
<text transform="translate(387.20,339.81) scale(0.950,1)" font-size="7.95" text-anchor="end" fill="#4D4D4D">0.000</text>
<line x1="388.30" x2="390.1" y1="321.88" y2="321.88" stroke="#333" stroke-width="0.6"/>
<text transform="translate(387.20,324.99) scale(0.950,1)" font-size="7.95" text-anchor="end" fill="#4D4D4D">0.025</text>
<line x1="388.30" x2="390.1" y1="307.05" y2="307.05" stroke="#333" stroke-width="0.6"/>
<text transform="translate(387.20,310.16) scale(0.950,1)" font-size="7.95" text-anchor="end" fill="#4D4D4D">0.050</text>
<line x1="388.30" x2="390.1" y1="292.22" y2="292.22" stroke="#333" stroke-width="0.6"/>
<text transform="translate(387.20,295.34) scale(0.950,1)" font-size="7.95" text-anchor="end" fill="#4D4D4D">0.075</text>
<line x1="388.30" x2="390.1" y1="277.40" y2="277.40" stroke="#333" stroke-width="0.6"/>
<text transform="translate(387.20,280.51) scale(0.950,1)" font-size="7.95" text-anchor="end" fill="#4D4D4D">0.100</text>
<line x1="434.70" x2="434.70" y1="338.8" y2="340.60" stroke="#333" stroke-width="0.6"/>
<text transform="translate(434.40,348.65) scale(0.950,1)" font-size="7.95" text-anchor="middle" fill="#4D4D4D">250</text>
<line x1="479.80" x2="479.80" y1="338.8" y2="340.60" stroke="#333" stroke-width="0.6"/>
<text transform="translate(479.50,348.65) scale(0.950,1)" font-size="7.95" text-anchor="middle" fill="#4D4D4D">500</text>
<line x1="524.90" x2="524.90" y1="338.8" y2="340.60" stroke="#333" stroke-width="0.6"/>
<text transform="translate(524.60,348.65) scale(0.950,1)" font-size="7.95" text-anchor="middle" fill="#4D4D4D">750</text>
<line x1="570.00" x2="570.00" y1="338.8" y2="340.60" stroke="#333" stroke-width="0.6"/>
<text transform="translate(569.70,348.65) scale(0.950,1)" font-size="7.95" text-anchor="middle" fill="#4D4D4D">1000</text>
<text transform="translate(484.05,358.50) scale(1.050,1)" font-size="7.95" text-anchor="middle" fill="#000" stroke="#000" stroke-width="0.18">Sample size</text>
<text transform="translate(364.90,306.70) rotate(-90)" font-size="8.8" text-anchor="middle" fill="#000" textLength="60.80" lengthAdjust="spacingAndGlyphs" stroke="#000" stroke-width="0.18">Bias specificity</text>
<text transform="translate(587.30,293.80) scale(0.950,1)" font-size="6.6" text-anchor="start" fill="#000">Bias</text>
<rect x="587.0" y="297.30" width="9.3" height="9.85" fill="#F2F2F2"/>
<line x1="587.90" x2="595.40" y1="302.53" y2="302.53" stroke="#F8766D" stroke-width="1.1" stroke-opacity="1.0"/>
<text transform="translate(599.90,304.98) scale(0.910,1)" font-size="6.7" text-anchor="start" fill="#000">Unadjusted</text>
<rect x="587.0" y="307.15" width="9.3" height="9.85" fill="#F2F2F2"/>
<line x1="587.90" x2="595.40" y1="312.38" y2="312.38" stroke="#00BA38" stroke-width="1.1" stroke-opacity="1.0"/>
<text transform="translate(599.90,314.83) scale(0.910,1)" font-size="6.7" text-anchor="start" fill="#000">Brenner</text>
<rect x="587.0" y="317.00" width="9.3" height="9.85" fill="#F2F2F2"/>
<line x1="587.90" x2="595.40" y1="322.23" y2="322.23" stroke="#619CFF" stroke-width="1.8" stroke-opacity="0.55"/>
<text transform="translate(599.90,324.68) scale(0.910,1)" font-size="6.7" text-anchor="start" fill="#000">Staquet</text></g>
<line x1="337.4" y1="0.5" x2="339.9" y2="372" stroke="#1a1a1a" stroke-width="1.4"/>
<line x1="1" y1="174.7" x2="684" y2="174.7" stroke="#1a1a1a" stroke-width="1.7"/>
</svg></body></html>
